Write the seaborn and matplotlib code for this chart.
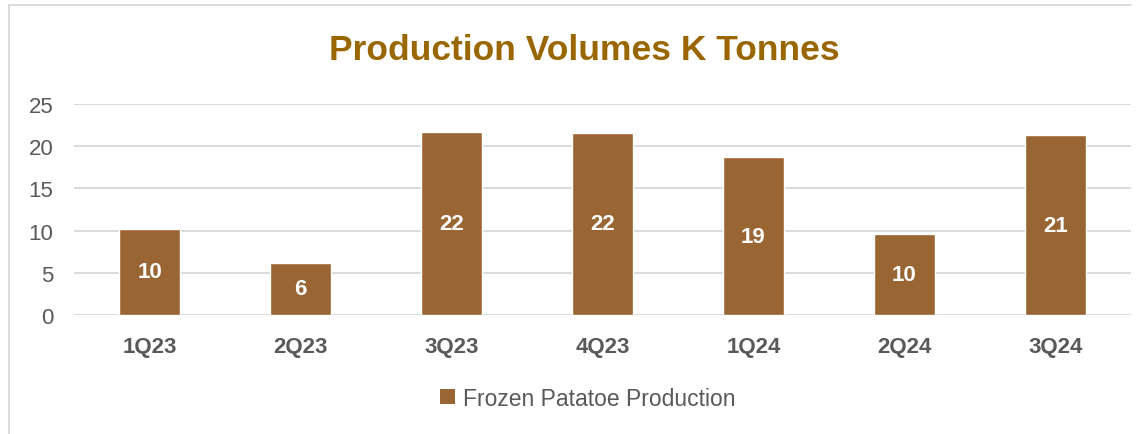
import matplotlib
matplotlib.use("Agg")
import matplotlib.pyplot as plt
import seaborn as sns
import pandas as pd
from matplotlib.lines import Line2D
from matplotlib.patches import Patch

quarters = ["1Q23", "2Q23", "3Q23", "4Q23", "1Q24", "2Q24", "3Q24"]
production = [10.2, 6.2, 21.7, 21.6, 18.7, 9.6, 21.3]
series_name = "Frozen Patatoe Production"

bar_color = "#996633"
title_color = "#996600"
text_color = "#595959"
grid_color = "#d9d9d9"

sns.set_style("white")
plt.rcParams["font.family"] = ["Liberation Sans", "DejaVu Sans"]

df = pd.DataFrame({"quarter": quarters, "value": production})

fig = plt.figure(figsize=(11.48, 4.35), dpi=100)
ax = fig.add_axes([0.0645, 0.2736, 0.9205, 0.485])

sns.barplot(data=df, x="quarter", y="value", color=bar_color, width=0.405,
            saturation=1, ax=ax, zorder=3)

ax.set_ylim(0, 25)
ax.set_xlim(-0.5, len(quarters) - 0.5)
ax.set_yticks(range(0, 26, 5))
ax.yaxis.grid(True, color=grid_color, linewidth=1.3, zorder=0)
ax.set_axisbelow(True)
for s in ax.spines.values():
    s.set_visible(False)
ax.tick_params(axis="both", length=0, colors=text_color, labelsize=16)
ax.tick_params(axis="y", pad=15)
ax.tick_params(axis="x", pad=15)
for lbl in ax.get_xticklabels():
    lbl.set_fontweight("bold")
ax.set_xlabel("")
ax.set_ylabel("")

for c in ax.containers:
    ax.bar_label(c, labels=[f"{v:.0f}" for v in production], label_type="center",
                 color="white", fontsize=16, fontweight="bold")

fig.text(0.509, 0.885, "Production Volumes K Tonnes", ha="center", va="center",
         fontsize=25.5, fontweight="bold", color=title_color)

handle = Patch(facecolor=bar_color, edgecolor="none")
fig.legend([handle], [series_name], loc="center", bbox_to_anchor=(0.512, 0.082),
           frameon=False, fontsize=16.5, labelcolor=text_color,
           handlelength=0.65, handleheight=0.65, handletextpad=0.35)

# chart frame (top and left edges visible in the crop)
fig.add_artist(Line2D([9 / 1148, 1131 / 1148], [1 - 6 / 435, 1 - 6 / 435],
                      transform=fig.transFigure, color=grid_color, linewidth=1.3))
fig.add_artist(Line2D([9 / 1148, 9 / 1148], [0, 1 - 6 / 435],
                      transform=fig.transFigure, color=grid_color, linewidth=1.3))

fig.savefig("out.png", dpi=100, facecolor="white")
